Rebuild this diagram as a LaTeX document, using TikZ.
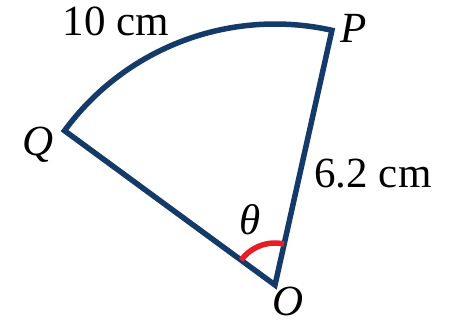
\documentclass[tikz,border=0pt]{standalone}
\usepackage{fontspec}
\setmainfont{Liberation Serif}
\usetikzlibrary{calc}
\definecolor{navy}{RGB}{20,58,106}
\definecolor{anglered}{RGB}{232,28,36}
\begin{document}
\begin{tikzpicture}[x=1pt,y=1pt,
  sect/.style={draw=navy,line width=5.5pt,line join=miter},
  ang/.style={draw=anglered,line width=5.5pt},
  lbl/.style={font=\fontsize{43}{46}\selectfont,inner sep=0pt,anchor=base}]
\useasboundingbox (0,0) rectangle (457,325);
\coordinate (O) at (275,40);
\coordinate (P) at ($(O)+(77.4:261)$);
\coordinate (Q) at ($(O)+(143.75:261)$);
\draw[sect] (O) -- (P) arc[start angle=77.4,end angle=143.75,radius=261] -- cycle;
\draw[ang] ([shift={(77.4:42)}]O) arc[start angle=77.4,end angle=143.75,radius=42];
\node[lbl] (l10) at (116,290) {10 cm};
\node[lbl] (l62) at (373,138) {6.2 cm};
\node[lbl,anchor=base west] (lP) at (340,283) {\itshape P};
\node[lbl,anchor=base west] (lQ) at (22,170) {\itshape Q};
\node[lbl,anchor=base west] (lO) at (272,10) {\itshape O};
\node[lbl,anchor=base west] (lt) at (239,91) {\itshape θ};
\end{tikzpicture}
\end{document}
